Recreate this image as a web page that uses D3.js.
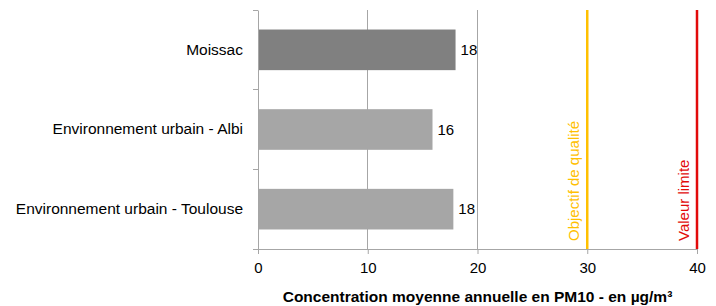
<!DOCTYPE html>
<html><head><meta charset="utf-8">
<script src="https://cdn.jsdelivr.net/npm/d3@7"></script>
<style>body{margin:0;background:#fff}svg{display:block}text{font-family:"Liberation Sans",Arial,sans-serif}</style>
</head><body><svg id="c" width="716" height="306"></svg>
<script>
const categories = ["Moissac", "Environnement urbain - Albi", "Environnement urbain - Toulouse"];
const values = [18.0, 15.9, 17.8];
const labels = ["18", "16", "18"];
const xTicks = [0, 10, 20, 30, 40];
const refLines = [{v:30, name:"Objectif de qualité"}, {v:40, name:"Valeur limite"}];
const xTitle = "Concentration moyenne annuelle en PM10 - en µg/m³";

const FS = 15;
const svg = d3.select("#c");
const m = {l:258, r:697, t:10, b:249};
const x = d3.scaleLinear().domain([0,40]).range([m.l, m.r]);
const y = d3.scaleBand().domain(categories).range([m.t, m.b]).paddingInner(0.49).paddingOuter(0.245);
const yb = d3.scaleBand().domain(categories).range([m.t, m.b]);
const barColors = ["#808080", "#a6a6a6", "#a6a6a6"];
const refColors = ["#ffc000", "#e20a0a"];

// gridlines
svg.append("g").selectAll("line").data([10,20]).join("line")
  .attr("x1", d=>x(d)).attr("x2", d=>x(d)).attr("y1", m.t).attr("y2", m.b)
  .attr("stroke", "#a6a6a6").attr("stroke-width", 1).attr("shape-rendering","crispEdges");

// bars
svg.append("g").selectAll("rect").data(values).join("rect")
  .attr("x", x(0)).attr("y", (d,i)=>y(categories[i])).attr("width", d=>x(d)-x(0))
  .attr("height", y.bandwidth()).attr("fill", (d,i)=>barColors[i]);

// value labels
svg.append("g").selectAll("text").data(values).join("text")
  .attr("x", d=>x(d)+5).attr("y", (d,i)=>y(categories[i])+y.bandwidth()/2)
  .attr("dy","0.35em").attr("font-size", FS).attr("fill","#000").text((d,i)=>labels[i]);

// reference lines
svg.append("g").selectAll("line").data(refLines).join("line")
  .attr("x1", d=>x(d.v)).attr("x2", d=>x(d.v)).attr("y1", m.t).attr("y2", m.b)
  .attr("stroke", (d,i)=>refColors[i]).attr("stroke-width", 2.5);
svg.append("g").selectAll("text").data(refLines).join("text")
  .attr("transform", d=>`translate(${x(d.v)-8.5},${m.b-8}) rotate(-90)`)
  .attr("font-size", FS).attr("fill", (d,i)=>refColors[i]).text(d=>d.name);

// x axis
const xa = svg.append("g").attr("transform", `translate(0,${m.b})`)
  .call(d3.axisBottom(x).tickValues(xTicks).tickSize(5).tickPadding(8).tickSizeOuter(0));
xa.select(".domain").attr("stroke","#a6a6a6");
xa.selectAll(".tick line").attr("stroke","#a6a6a6");
xa.selectAll(".tick text").attr("font-size", FS).attr("fill","#000").attr("font-family",'"Liberation Sans",Arial,sans-serif');

// y axis
const ya = svg.append("g").attr("transform", `translate(${m.l},0)`)
  .call(d3.axisLeft(yb).tickSize(0).tickPadding(15));
ya.select(".domain").attr("stroke","#a6a6a6");
ya.selectAll(".tick text").attr("font-size", 15.5).attr("fill","#000").attr("font-family",'"Liberation Sans",Arial,sans-serif');
// category separator ticks
const sep = [m.t, ...categories.slice(1).map(c=>yb(c)), m.b];
svg.append("g").selectAll("line").data(sep).join("line")
  .attr("x1", m.l-5).attr("x2", m.l).attr("y1", d=>d).attr("y2", d=>d)
  .attr("stroke","#a6a6a6").attr("shape-rendering","crispEdges");

// title
svg.append("text").attr("x", (x(0)+x(40))/2 ).attr("y", 302).attr("text-anchor","middle")
  .attr("font-size", 15.5).attr("font-weight","bold").attr("fill","#000").text(xTitle);
</script></body></html>
